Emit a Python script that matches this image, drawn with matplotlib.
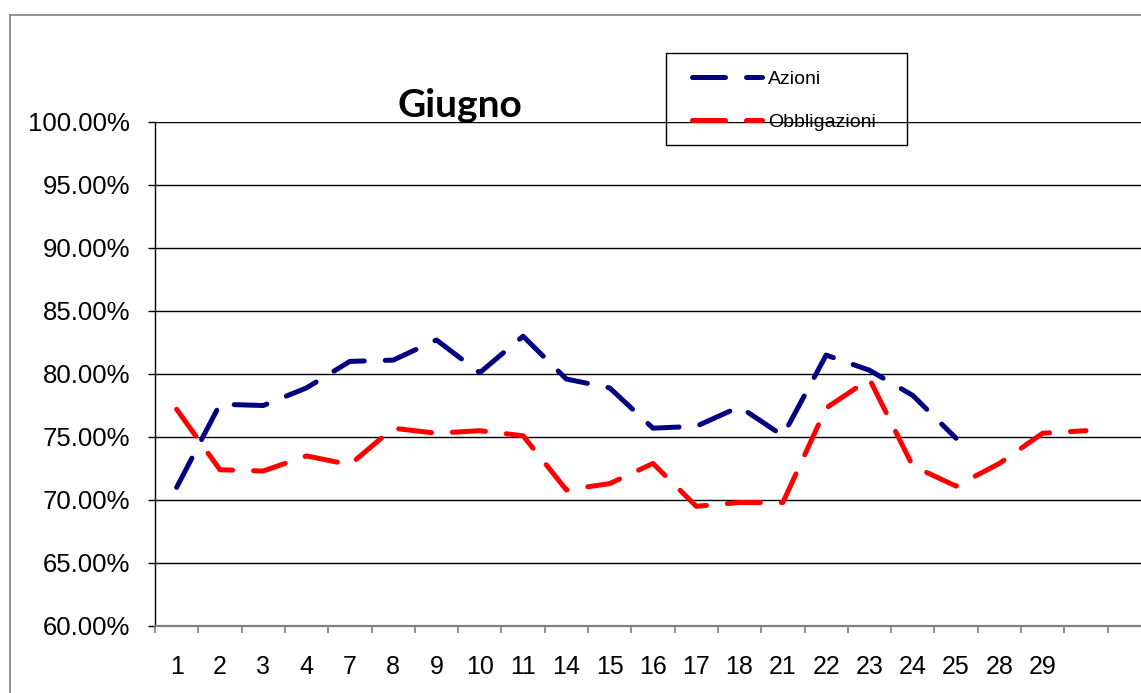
import numpy as np
import matplotlib.pyplot as plt
from matplotlib.lines import Line2D
from matplotlib.patches import Rectangle

# dati (giorni di giugno, valori in %)
giorni = ['1', '2', '3', '4', '7', '8', '9', '10', '11', '14', '15', '16',
          '17', '18', '21', '22', '23', '24', '25', '28', '29', '']
azioni = [71.0, 77.6, 77.5, 78.9, 81.0, 81.1, 82.7, 80.1, 83.0, 79.6, 78.9,
          75.7, 75.85, 77.4, 75.1, 81.5, 80.3, 78.3, 74.9]
obbligazioni = [77.2, 72.4, 72.3, 73.5, 72.8, 75.7, 75.3, 75.5, 75.1, 70.8,
                71.3, 72.9, 69.5, 69.8, 69.8, 77.3, 79.6, 72.7, 71.1, 72.9,
                75.3, 75.5]

W, H = 1141, 693
fig = plt.figure(figsize=(W / 100, H / 100), dpi=100)
fig.patch.set_facecolor('white')

# area del grafico (si estende oltre il bordo destro come nell'originale)
n_slot = 23
slot_px = 43.3
ax = fig.add_axes([155 / W, (H - 626) / H, n_slot * slot_px / W, (626 - 122) / H])

dash = (0, (6.6, 4.2))
ax.plot(np.arange(len(azioni)), azioni, color='#000080', lw=3.6,
        linestyle=dash, dash_capstyle='round', solid_capstyle='round',
        label='Azioni', zorder=3)
ax.plot(np.arange(len(obbligazioni)), obbligazioni, color='#FF0000', lw=3.6,
        linestyle=dash, dash_capstyle='round', solid_capstyle='round',
        label='Obbligazioni', zorder=3)

ax.set_xlim(-0.5, n_slot - 0.5)
ax.set_ylim(60, 100)

yt = np.arange(60, 100.1, 5)
ax.set_yticks(yt)
ax.set_yticklabels(['{:.2f}%'.format(v) for v in yt],
                   family='Liberation Sans', fontsize=18.5)
ax.yaxis.grid(True, color='black', lw=1)
ax.tick_params(axis='y', direction='out', length=5, width=1, pad=13,
               color='black')

ax.set_xticks(np.arange(len(giorni)))
ax.set_xticklabels(giorni, family='Liberation Sans', fontsize=18)
ax.set_xticks(np.arange(-0.5, n_slot, 1), minor=True)
ax.tick_params(axis='x', which='major', length=0, pad=21)
ax.tick_params(axis='x', which='minor', direction='out', length=5,
               width=1.2, color='#808080')

for s in ['top', 'right']:
    ax.spines[s].set_visible(False)
ax.spines['left'].set_color('black')
ax.spines['left'].set_linewidth(1)
ax.spines['bottom'].set_color('#808080')
ax.spines['bottom'].set_linewidth(1.6)
ax.set_axisbelow(True)

# bordo esterno del grafico
fig.add_artist(Line2D([10 / W, 10 / W], [0, 1 - 15 / H], color='#808080',
                      lw=1.2, transform=fig.transFigure))
fig.add_artist(Line2D([10 / W, 1], [1 - 15 / H, 1 - 15 / H], color='#808080',
                      lw=1.2, transform=fig.transFigure))

# titolo
fig.text(460 / W, 1 - 117 / H, 'Giugno', family='Lato', fontweight='bold',
         fontsize=28, ha='center', va='baseline')

# legenda
fig.add_artist(Rectangle((666 / W, 1 - 145 / H), 241 / W, 92.3 / H,
                         fill=False, edgecolor='black', lw=1,
                         transform=fig.transFigure))
ax.legend(loc='upper left', bbox_to_anchor=(692 / W, 1 - 70 / H),
          bbox_transform=fig.transFigure, frameon=False, borderpad=0,
          borderaxespad=0, handlelength=3.6, handletextpad=0.3,
          labelspacing=1.32, prop={'family': 'Liberation Sans', 'size': 14})

plt.savefig('out.png', dpi=100)
